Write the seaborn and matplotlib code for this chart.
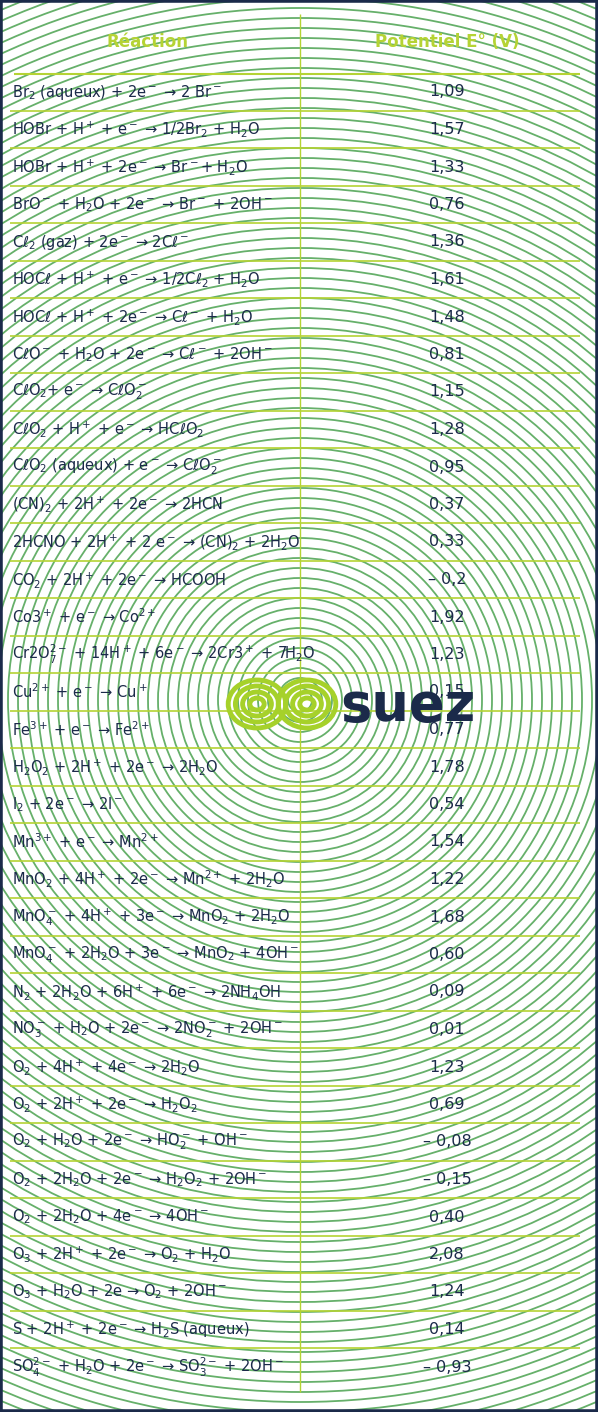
import numpy as np
import matplotlib.pyplot as plt
import seaborn as sns
from matplotlib.patches import Circle, Rectangle, Ellipse

reactions = [
    r"Br$_2$ (aqueux) + 2e$^-$ → 2 Br$^-$",
    r"HOBr + H$^+$ + e$^-$ → 1/2Br$_2$ + H$_2$O",
    r"HOBr + H$^+$ + 2e$^-$ → Br$^-$+ H$_2$O",
    r"BrO$^-$ + H$_2$O + 2e$^-$ → Br$^-$ + 2OH$^-$",
    r"Cℓ$_2$ (gaz) + 2e$^-$ → 2Cℓ$^-$",
    r"HOCℓ + H$^+$ + e$^-$ → 1/2Cℓ$_2$ + H$_2$O",
    r"HOCℓ + H$^+$ + 2e$^-$ → Cℓ$^-$ + H$_2$O",
    r"CℓO$^-$ + H$_2$O + 2e$^-$ → Cℓ$^-$ + 2OH$^-$",
    r"CℓO$_2$+ e$^-$ → CℓO$_2^-$",
    r"CℓO$_2$ + H$^+$ + e$^-$ → HCℓO$_2$",
    r"CℓO$_2$ (aqueux) + e$^-$ → CℓO$_2^-$",
    r"(CN)$_2$ + 2H$^+$ + 2e$^-$ → 2HCN",
    r"2HCNO + 2H$^+$ + 2 e$^-$ → (CN)$_2$ + 2H$_2$O",
    r"CO$_2$ + 2H$^+$ + 2e$^-$ → HCOOH",
    r"Co3$^+$ + e$^-$ → Co$^{2+}$",
    r"Cr2O$_7^{2-}$ + 14H$^+$ + 6e$^-$ → 2Cr3$^+$ + 7H$_2$O",
    r"Cu$^{2+}$ + e$^-$ → Cu$^+$",
    r"Fe$^{3+}$ + e$^-$ → Fe$^{2+}$",
    r"H$_2$O$_2$ + 2H$^+$ + 2e$^-$ → 2H$_2$O",
    r"I$_2$ + 2e$^-$ → 2I$^-$",
    r"Mn$^{3+}$ + e$^-$ → Mn$^{2+}$",
    r"MnO$_2$ + 4H$^+$ + 2e$^-$ → Mn$^{2+}$ + 2H$_2$O",
    r"MnO$_4^-$ + 4H$^+$ + 3e$^-$ → MnO$_2$ + 2H$_2$O",
    r"MnO$_4^-$ + 2H$_2$O + 3e$^-$ → MnO$_2$ + 4OH$^-$",
    r"N$_2$ + 2H$_2$O + 6H$^+$ + 6e$^-$ → 2NH$_4$OH",
    r"NO$_3^-$ + H$_2$O + 2e$^-$ → 2NO$_2^-$ + 2OH$^-$",
    r"O$_2$ + 4H$^+$ + 4e$^-$ → 2H$_2$O",
    r"O$_2$ + 2H$^+$ + 2e$^-$ → H$_2$O$_2$",
    r"O$_2$ + H$_2$O + 2e$^-$ → HO$_2^-$ + OH$^-$",
    r"O$_2$ + 2H$_2$O + 2e$^-$ → H$_2$O$_2$ + 2OH$^-$",
    r"O$_2$ + 2H$_2$O + 4e$^-$ → 4OH$^-$",
    r"O$_3$ + 2H$^+$ + 2e$^-$ → O$_2$ + H$_2$O",
    r"O$_3$ + H$_2$O + 2e → O$_2$ + 2OH$^-$",
    r"S + 2H$^+$ + 2e$^-$ → H$_2$S (aqueux)",
    r"SO$_4^{2-}$ + H$_2$O + 2e$^-$ → SO$_3^{2-}$ + 2OH$^-$",
]
potentials = ["1,09", "1,57", "1,33", "0,76", "1,36", "1,61", "1,48", "0,81",
              "1,15", "1,28", "0,95", "0,37", "0,33", "– 0,2", "1,92", "1,23",
              "0,15", "0,77", "1,78", "0,54", "1,54", "1,22", "1,68", "0,60",
              "0,09", "0,01", "1,23", "0,69", "– 0,08", "– 0,15", "0,40", "2,08",
              "1,24", "0,14", "– 0,93"]
headers = ["Réaction", "Potentiel E° (V)"]

sns.set_style("white")
plt.rcParams["font.family"] = ["DejaVu Sans Condensed", "DejaVu Sans"]
plt.rcParams["mathtext.default"] = "regular"

W, H = 598, 1412
fig = plt.figure(figsize=(W / 100, H / 100), dpi=100)
ax = fig.add_axes([0, 0, 1, 1])
ax.set_xlim(0, W)
ax.set_ylim(H, 0)
ax.axis("off")

# concentric ring background
ring = "#66b06a"
for r in np.arange(12, 1000, 10):
    ax.add_patch(Circle((300, 700), r, fill=False, ec=ring, lw=1.3, zorder=1))
ax.add_patch(Rectangle((0, 0), W, H, fill=False, ec="#1b2a4a", lw=4, zorder=5))

green = "#b5d334"
row_y0, row_step = 92, 37.5
n = len(reactions)
ax.vlines(300, 14, 1392, color=green, lw=1, zorder=2)
ax.hlines(74, 14, 580, color=green, lw=1.5, zorder=2)
for i in range(n - 1):
    ax.hlines(row_y0 + (i + 0.5) * row_step, 10, 580, color=green, lw=1.2, zorder=2)

ax.text(148, 42, headers[0], color=green, fontsize=12, weight="bold",
        ha="center", va="center", zorder=3)
ax.text(447, 42, headers[1], color=green, fontsize=12, weight="bold",
        ha="center", va="center", zorder=3)
for i, (rx, p) in enumerate(zip(reactions, potentials)):
    y = row_y0 + i * row_step
    ax.text(12, y, rx, color="#1b2a4a", fontsize=10.5, ha="left", va="center", zorder=3)
    ax.text(447, y, p, color="#1b2a4a", fontsize=11.5, ha="center", va="center", zorder=3)

# logo
lime = "#a6d12a"
for w in [12, 24, 36, 48]:
    ax.add_patch(Ellipse((257, 704), w * 1.2, w, fill=False, ec=lime, lw=3.5, zorder=4))
    ax.add_patch(Ellipse((307, 704), w * 1.2, w, fill=False, ec=lime, lw=3.5, zorder=4))
ax.text(408, 706, "suez", color="#1b2a4a", fontsize=38, ha="center", va="center",
        family="DejaVu Sans", weight="bold", zorder=4)

fig.savefig("out.png", dpi=100)
